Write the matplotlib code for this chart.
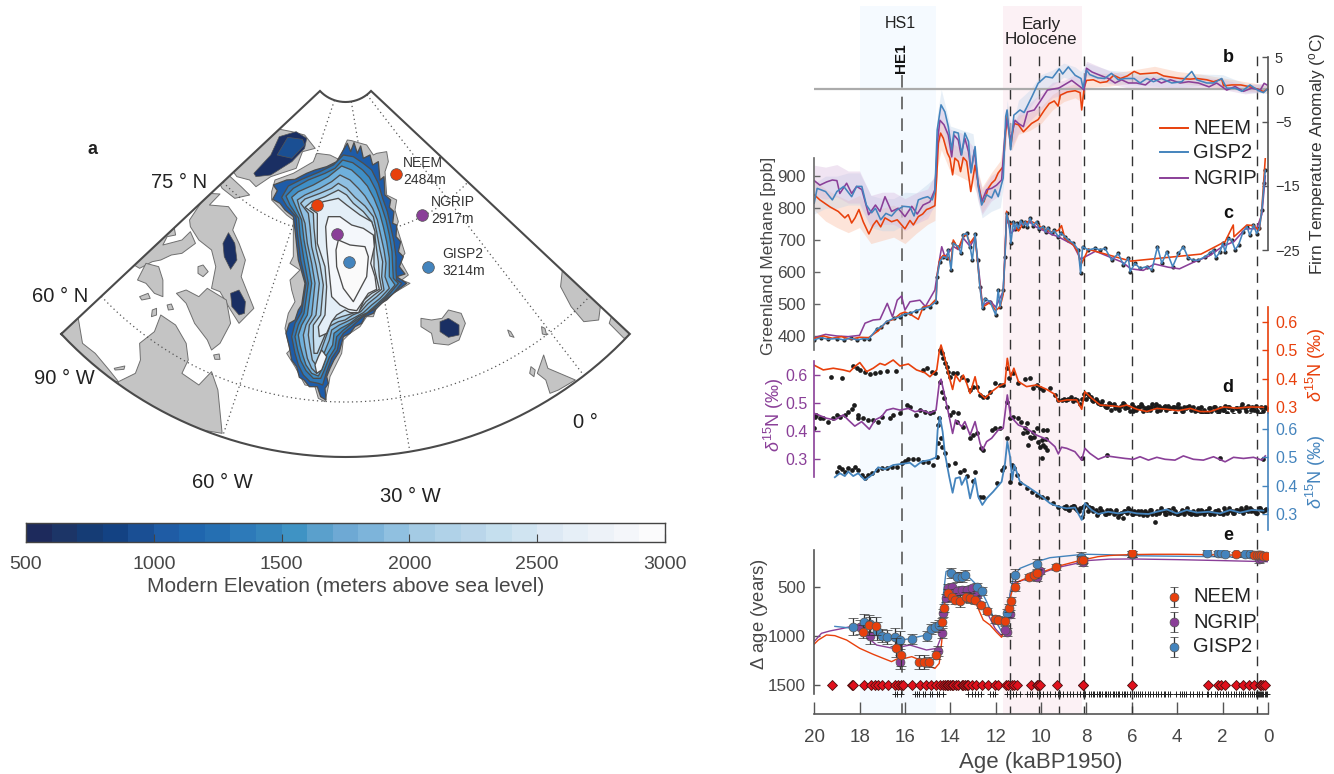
import numpy as np
import matplotlib
matplotlib.use("Agg")
import matplotlib.pyplot as plt
from matplotlib.colors import ListedColormap
from matplotlib.patches import Polygon, PathPatch
from matplotlib.path import Path

plt.rcParams['font.family'] = ['Liberation Sans', 'DejaVu Sans']
plt.rcParams['mathtext.fontset'] = 'custom'
plt.rcParams['mathtext.rm'] = 'Liberation Sans'
plt.rcParams['mathtext.it'] = 'Liberation Sans:italic'
plt.rcParams['mathtext.bf'] = 'Liberation Sans:bold'

W, H = 1334, 774
C_N, C_G, C_P = '#e8400c', '#4484bd', '#8a3f98'
DARK = '#474747'

# ---------------- data: panel b (age ka, firn temperature anomaly) ----------
NEEM_T = [(20,-16.4),(19.75,-17.2),(19.3,-18.3),(18.94,-19),(18.65,-20),(18.5,-19.5),(18.35,-20.8),(18.2,-20),(18.03,-18.7),(17.84,-20.6),(17.59,-22.5),(17.4,-21.1),(17.25,-20.4),(17.07,-21.4),(16.88,-20),(16.59,-20.6),(16.34,-20.3),(16,-21.7),(15.78,-20.4),(15.63,-21.1),(15.41,-19.8),(15.22,-19.4),(15.05,-18.7),(14.9,-18.5),(14.68,-18.1),(14.6,-13.6),(14.53,-8.4),(14.43,-6.8),(14.31,-7.6),(14.13,-9.9),(14.02,-10.7),(13.9,-13.3),(13.8,-10.7),(13.65,-11.2),(13.55,-12.8),(13.43,-10.6),(13.28,-11.2),(13.1,-15.9),(12.91,-11.8),(12.77,-14.6),(12.62,-17.2),(12.52,-17.5),(12.33,-15.4),(12.18,-14.6),(12.03,-14.1),(11.89,-13),(11.67,-12),(11.59,-7.9),(11.5,-4.2),(11.34,-8.9),(11.2,-5.3),(11,-5.5),(10.78,-6.6),(10.42,-5.3),(10.13,-4.7),(9.85,-3.2),(9.64,-2.2),(9.42,-1.8),(9.25,-2.6),(9.15,-0.9),(8.85,-0.4),(8.5,-0.2),(8.28,-0.5),(8.21,-3.2),(8.1,0.3),(8,1.4),(7.7,1.5),(7.4,1.05),(7.1,1.2),(6.8,2.2),(6.5,1.7),(6.2,2.1),(5.9,2.8),(5.64,2.4),(5.27,2.5),(4.9,2.6),(4.6,2.1),(4.24,1.9),(3.87,1.7),(3.43,1.6),(3.14,1.7),(2.7,1.5),(2.4,1.2),(2.04,1.6),(1.96,0.55),(1.6,0.7),(1.2,0.7),(0.79,0.4),(0.42,0),(0.2,-0.35),(0.05,0)]
GISP_T = [(20,-17.7),(19.87,-15.4),(19.5,-15.9),(19.2,-17.2),(19,-15.9),(18.7,-15.1),(18.35,-16.7),(18.13,-15.1),(17.9,-15.1),(17.7,-18),(17.47,-19.2),(17.3,-18.5),(17.07,-20.3),(16.84,-19.3),(16.59,-19.7),(16.37,-18.8),(16.07,-18.2),(15.78,-18.3),(15.6,-19.7),(15.41,-17.2),(15.2,-16.9),(15,-16.7),(14.8,-17.2),(14.68,-15.9),(14.58,-6.3),(14.41,-2.4),(14.24,-3.5),(14.09,-5.8),(13.94,-9.4),(13.84,-6.6),(13.65,-6.8),(13.5,-10.2),(13.36,-6.8),(13.2,-8.1),(13.09,-13),(12.91,-8.9),(12.77,-15.1),(12.62,-18),(12.4,-16.4),(12.18,-16.9),(12.03,-15.6),(11.89,-16.7),(11.67,-13.8),(11.56,-4.2),(11.5,-3.2),(11.34,-9.4),(11.2,-4),(10.93,-3.2),(10.75,-3.6),(10.4,-1.1),(10.13,0.95),(9.8,2),(9.5,1.8),(9.2,3.2),(9.05,2.4),(8.8,3.5),(8.5,2.2),(8.24,1.7),(8.15,0.2),(8,3),(7.85,2.3),(7.5,1.8),(7.2,1.7),(6.9,2.5),(6.6,1.5),(6.3,1.7),(5.9,1.7),(5.64,1),(5.34,1.7),(5.05,1.2),(4.7,1.7),(4.24,1),(3.8,1.2),(3.36,2.8),(3.14,1.5),(2.7,1),(2.4,1),(2.04,1.7),(1.82,0.2),(1.45,0.2),(1.15,-0.3),(0.79,0.7),(0.42,-0.2),(0.2,-0.5),(0.05,0)]
NGRIP_T = [(20,-14.2),(19.75,-14.9),(19.45,-14.4),(19.2,-14.1),(19,-14.2),(18.87,-16.2),(18.57,-14.6),(18.35,-16.2),(18.13,-15.1),(17.9,-15.6),(17.6,-19.5),(17.3,-18),(17.1,-19),(16.88,-16.7),(16.59,-19),(16.3,-18.5),(16,-19.8),(15.7,-18.2),(15.46,-19.4),(15.2,-18),(14.9,-17.5),(14.68,-15.6),(14.56,-7.9),(14.46,-4.8),(14.28,-5.5),(14.09,-7.1),(13.94,-10.5),(13.84,-7.1),(13.65,-7.9),(13.53,-10.2),(13.36,-7.6),(13.2,-9.7),(13.09,-12.8),(12.94,-9.4),(12.77,-14.9),(12.62,-17.5),(12.4,-15.6),(12.18,-15.4),(11.96,-14.9),(11.74,-14.1),(11.59,-6.8),(11.5,-4.7),(11.34,-7.9),(11.15,-4.8),(11,-5.3),(10.78,-5.8),(10.6,-3.5),(10.3,-3.2),(10.05,-1.9),(9.72,-0.1),(9.24,0.2),(9.15,0.35),(8.65,1.4),(8.24,0.3),(8.1,-0.1),(8,3.3),(7.75,2.7),(7.4,2.2),(7.03,1.7),(6.74,1),(6.45,1.5),(6.15,1),(5.8,1),(5.4,0.7),(5.05,1.7),(4.7,1),(4.3,1.5),(3.87,1),(3.5,1.2),(3.07,1),(2.6,0.4),(2.26,1),(1.82,-0.1),(1.45,0.45),(1.08,-0.3),(0.72,0.2),(0.34,-0.1),(0.17,0.95),(0.05,0.7)]
BAND_AGE  = [20,19.5,19,18.5,18,17.5,17,16.5,16,15.5,15,14.68,14.58,14.4,14,13.5,13,12.8,12.6,12.2,11.8,11.65,11.5,11.3,11,10.5,10,9.5,9,8.5,8.25,8,7,6,5,4,3,2,1,0]
BAND_HALF = [2.4,2.5,2.5,2.5,2.5,2.5,2.5,2.5,2.5,2.4,2.3,2.3,2.3,2.4,2.3,2.2,2.1,2.1,2.0,2.0,1.9,1.8,1.6,1.5,1.5,1.4,1.3,1.2,1.1,1.1,1.1,1.1,1,1,1,0.9,0.9,0.8,0.7,0.6]
NEEM_MID  = [-16.4,-18,-19,-19.8,-19,-21.5,-21,-20.5,-21.5,-20,-18.7,-18.1,-10,-7,-10.5,-11.5,-12.5,-14.5,-17.2,-15,-13,-9,-4.2,-8,-5.5,-5,-4,-2,-0.8,-0.2,-0.8,1.4,1.5,2,2.6,1.9,1.5,1,0.5,0]
GISP_MID  = [-17,-16,-16,-15.5,-15.5,-19,-19.5,-19.5,-18.5,-18.5,-17,-16,-6.3,-2.4,-8,-8.5,-9,-15,-18,-17,-16.5,-13,-3.2,-8,-3.2,-1.5,1,1.8,3,2.4,1.7,3,2,1.7,1.5,1.1,1.5,1.5,0.2,0]
NGRIP_MID = [-14.2,-14.6,-14.2,-15.2,-15.2,-19,-18.5,-18.5,-19.5,-18.5,-17.8,-15.6,-7.9,-4.8,-8.5,-9,-11,-14.9,-17.5,-15.4,-14.5,-10,-4.7,-7.5,-5.3,-3.5,-1.9,-0.1,0.3,1.2,0.3,3.3,1.9,1.1,1.1,1.1,1,0.8,0,0.4]

# ---------------- panel c: Greenland methane ----------------------------------
GISP_CH4 = [(20,388),(19.7,395),(19.4,390),(19,392),(18.7,388),(18.4,393),(18.1,388),(17.8,392),(17.6,390),(17.25,421),(17.05,428),(16.81,445),(16.5,455),(16.2,460),(16,469),(15.78,471),(15.5,479),(15.2,486),(14.9,492),(14.63,507),(14.58,585),(14.46,632),(14.31,648),(14.16,643),(14.09,669),(13.97,606),(13.87,690),(13.65,679),(13.53,658),(13.43,716),(13.28,721),(13.13,679),(13.03,637),(12.91,719),(12.8,637),(12.7,554),(12.58,486),(12.47,517),(12.25,507),(12,466),(11.89,544),(11.81,492),(11.67,544),(11.59,648),(11.52,783),(11.42,757),(11.33,690),(11.22,757),(11.15,735),(11.08,752),(11,736),(10.9,760),(10.78,745),(10.7,757),(10.6,742),(10.49,768),(10.35,745),(10.2,757),(10.1,735),(9.9,741),(9.8,725),(9.7,738),(9.54,721),(9.42,730),(9.24,710),(9.12,722),(8.95,710),(8.8,700),(8.58,690),(8.36,669),(8.26,596),(8.17,679),(7.92,669),(7.62,674),(7.4,669),(7.18,674),(6.89,637),(6.6,658),(6.37,622),(6.15,643),(6.08,601),(5.86,627),(5.64,611),(5.34,617),(5.12,606),(4.87,679),(4.68,627),(4.46,663),(4.2,617),(3.95,658),(3.73,679),(3.51,643),(3.29,637),(3.07,637),(2.77,648),(2.55,660),(2.4,669),(2.3,645),(2.11,663),(2,690),(1.89,664),(1.75,705),(1.6,700),(1.45,670),(1.3,684),(1.1,725),(0.93,742),(0.8,715),(0.64,747),(0.5,720),(0.38,736),(0.27,794),(0.17,877),(0.12,918)]
NEEM_CH4 = [(20,392),(19.6,400),(19.2,393),(18.8,398),(18.4,390),(18,396),(17.6,395),(17.2,415),(16.8,445),(16.5,452),(16.2,470),(16,475),(15.7,465),(15.41,452),(15.2,490),(14.9,495),(14.63,515),(14.58,590),(14.46,640),(14.31,652),(14.16,650),(13.97,630),(13.87,700),(13.65,672),(13.43,712),(13.28,716),(13.13,690),(12.91,712),(12.8,630),(12.7,560),(12.58,490),(12.25,505),(12,480),(11.81,490),(11.67,530),(11.59,655),(11.52,790),(11.42,750),(11.22,750),(11,728),(10.78,752),(10.49,760),(10.2,750),(9.9,735),(9.54,725),(9.24,730),(9.1,745),(8.95,705),(8.58,685),(8.36,660),(8.26,620),(7.92,671),(6.05,634),(2.95,656),(1.89,695),(1.53,747),(1.5,710),(0.93,747),(0.64,745),(0.38,730),(0.27,800),(0.12,955)]
NGRIP_CH4 = [(20,395),(19.5,405),(19,400),(18.5,398),(18,402),(17.76,440),(17.4,450),(17.1,452),(16.78,502),(16.55,460),(16.34,512),(16.15,525),(16,481),(15.78,507),(15.34,512),(15.1,492),(14.68,544),(14.53,617),(14.38,679),(14.24,648),(14.09,660),(13.87,680),(13.65,670),(13.43,706),(13.13,680),(12.91,708),(12.8,640),(12.58,495),(12.25,510),(12,490),(11.67,540),(11.52,775),(11.33,720),(11,745),(10.49,755),(10.2,740),(9.54,718),(9.24,710),(8.58,685),(8.26,640),(7.6,665),(6.4,630),(6.05,610),(5.5,605),(5,625),(4.4,615),(3.9,610),(3.3,630),(2.6,650),(2,680),(1.5,695),(1,735),(0.5,735),(0.27,780),(0.12,900)]

# ---------------- panel d: d15N --------------------------------------------------
NEEM_D15 = [(20.01,.448),(19.6,.431),(19.16,.437),(18.72,.431),(18.43,.425),(18.21,.443),(17.99,.457),(17.69,.425),(17.4,.437),(17.1,.454),(16.88,.448),(16.52,.466),(16.22,.445),(15.85,.452),(15.49,.431),(15.12,.421),(14.9,.407),(14.6,.431),(14.49,.496),(14.41,.519),(14.24,.472),(14.09,.419),(13.9,.362),(13.77,.413),(13.58,.39),(13.43,.413),(13.28,.384),(13.13,.348),(12.91,.407),(12.77,.354),(12.47,.331),(12.18,.354),(11.89,.372),(11.59,.384),(11.49,.472),(11.34,.407),(11.2,.437),(11,.39),(10.64,.372),(10.2,.378),(9.75,.362),(9.4,.345),(9.24,.319),(8.87,.325),(8.43,.325),(8.21,.292),(8.07,.354),(7.77,.331),(7.4,.307),(6.89,.304),(6.52,.301),(6.23,.307),(5.78,.292),(5.34,.284),(4.9,.295),(4.46,.292),(3.95,.287),(3.43,.295),(2.99,.284),(2.55,.284),(1.96,.3),(1.37,.296),(0.79,.3),(0.2,.299)]
NGRIP_D15 = [(20.01,.463),(19.82,.457),(19.46,.445),(19.09,.439),(18.72,.457),(18.5,.439),(18.21,.417),(17.91,.433),(17.57,.406),(17.32,.439),(17.03,.451),(16.81,.474),(16.52,.48),(16.22,.474),(15.85,.48),(15.56,.468),(15.27,.474),(14.9,.463),(14.63,.474),(14.49,.569),(14.41,.584),(14.24,.522),(14.05,.451),(13.9,.391),(13.77,.439),(13.5,.415),(13.36,.433),(13.13,.385),(12.91,.433),(12.69,.356),(12.58,.332),(12.4,.362),(12.18,.374),(11.89,.403),(11.67,.409),(11.49,.528),(11.34,.451),(11,.421),(10.64,.409),(10.2,.385),(9.75,.37),(9.39,.344),(9.24,.318),(9.1,.342),(8.87,.338),(8.51,.326),(8.21,.296),(8.07,.338),(7.85,.32),(7.48,.299),(7.11,.311),(6.67,.306),(6.3,.302),(5.93,.299),(5.64,.308),(5.27,.296),(4.9,.306),(4.54,.299),(4.1,.296),(3.73,.311),(3.29,.299),(2.85,.296),(2.4,.308),(1.89,.29),(1.52,.306),(1.08,.302),(0.64,.306),(0.27,.296),(0.12,.311)]
GISP_D15 = [(19.09,.43),(18.87,.444),(18.65,.434),(18.5,.45),(18.28,.434),(18.06,.444),(17.77,.42),(17.4,.441),(17.18,.465),(16.88,.458),(16.52,.473),(16.15,.477),(15.78,.481),(15.56,.467),(15.27,.485),(14.9,.491),(14.63,.5),(14.56,.597),(14.46,.644),(14.34,.591),(14.24,.514),(14.05,.432),(13.9,.375),(13.77,.426),(13.58,.43),(13.5,.403),(13.31,.432),(13.13,.355),(12.91,.426),(12.77,.361),(12.59,.332),(12.4,.355),(12.11,.379),(11.74,.414),(11.59,.479),(11.49,.556),(11.37,.503),(11.27,.42),(11.18,.473),(10.93,.414),(10.49,.391),(10.05,.367),(9.61,.338),(9.24,.326),(8.87,.32),(8.51,.323),(8.21,.279),(8.07,.338),(7.77,.314),(7.48,.3),(7.04,.308),(6.6,.302),(6.15,.308),(5.78,.302),(5.27,.3),(4.9,.308),(4.46,.316),(4.02,.302),(3.58,.314),(3.14,.305),(2.62,.308),(2.11,.302),(1.67,.314),(1.23,.305),(0.72,.314),(0.2,.312)]

NEEM_DOT_AGE = [19.28,18.79,18.28,18.13,17.99,17.77,17.55,17.32,17.1,16.78,16.41,15.19,15.05,14.83,14.68,14.46,14.38,14.31,14.24,14.16,14.09,14.02,13.87,13.72,13.5,13.28,13.13,12.99,12.84,12.69,12.55,12.4,12.25,12.03,11.81,11.67,11.52,11.4,11.22,11,10.71,10.49,10.34,10.2,10.05,9.9,9.6,9.39,9.24,9.1,9,8.9,8.8,8.7,8.6,8.5,8.4,8.3,8.2,8.1]
NEEM_DOT_VAL = [.405,.401,.445,.437,.431,.425,.417,.421,.425,.428,.426,.431,.437,.425,.419,.501,.49,.472,.454,.443,.425,.407,.419,.421,.407,.395,.36,.372,.372,.342,.337,.334,.354,.384,.378,.378,.437,.401,.419,.384,.398,.401,.366,.378,.366,.36,.366,.342,.325,.325,.33,.325,.33,.335,.32,.33,.325,.31,.33,.345]
NEEM_HOL_DOTS = [.33,.34,.335,.32,.33,.315,.31,.32,.305,.30,.315,.29,.31,.30,.295,.305,.315,.295,.30,.285,.31,.30,.29,.30,.31,.285,.295,.30,.29,.31,.30,.285,.305,.295,.30,.29,.305,.295,.30,.28,.30,.295,.285,.30,.295,.305,.29,.30,.285,.295,.285,.275,.29,.28,.295,.285,.30,.29,.275,.295,.29,.305,.28,.30,.29,.27,.295,.285,.30,.262,.295,.305,.27,.30,.29,.285,.25,.30,.285,.295]
NEEM_HOL_DOTS2 = [.345,.325,.32,.31,.30,.31,.295,.29,.31,.30,.285,.30,.305,.29,.30,.31,.29,.305,.295,.30,.31,.285,.30,.295,.29,.30,.28,.295,.30,.285,.29,.30,.27,.295,.31,.285,.29,.305,.275,.30]
NGRIP_DOT_AGE = [20.01,19.97,19.9,19.75,19.6,19.38,19.16,19.01,18.87,18.65,18.5,18.35,18.25,18.09,18.06,17.84,17.62,17.4,17.18,17.03,16.66,16.52,16.22,15.9,15.78,15.52,15.34,15.12,14.9,14.75,14.46,14.38,14.27,14.16,14.02,13.87,13.65,13.72,13.43,13.13,12.99,12.84,12.67,12.55,12.18,12.03,11.81,11.52,11.37,11.22,11,10.78,10.64,10.56,10.49,10.34,10.2,9.98,9.9,9.83,9.75,9.98,9.73,10.05,10.9,10.7,10.6,10.45,10.3,10.12,9.92,9.8,8.21,7.1,2.1,0.2]
NGRIP_DOT_VAL = [.409,.451,.457,.445,.445,.433,.445,.457,.451,.457,.468,.477,.492,.457,.445,.445,.439,.439,.433,.451,.445,.457,.465,.492,.486,.457,.474,.468,.463,.468,.575,.54,.516,.486,.457,.468,.463,.433,.415,.374,.385,.391,.338,.332,.403,.409,.409,.504,.445,.451,.445,.391,.427,.35,.379,.397,.409,.368,.403,.344,.403,.302,.332,.344,.43,.41,.395,.375,.38,.36,.35,.37,.302,.314,.302,.3]
GISP_DOT_AGE = [19.01,18.9,18.79,18.65,18.5,18.35,18.21,18.06,17.91,17.77,17.62,17.47,17.25,17.03,16.81,16.59,16.37,16.15,16,15.85,15.63,15.41,15.19,14.97,14.75,14.6,14.56,14.53,14.49,14.43,14.36,14.24,14.09,13.8,13.58,13.4,13.25,12.99,12.91,12.69,12.55,11.96,11.74,11.62,11.52,11.37,11.27,11.2,11.08,10.93,10.64,10.42,10.2,9.98,9.75,9.46,9.24]
GISP_DOT_VAL = [.45,.467,.458,.45,.461,.455,.465,.455,.438,.426,.438,.444,.455,.461,.461,.467,.467,.481,.488,.493,.493,.493,.485,.485,.473,.503,.55,.614,.638,.567,.538,.514,.473,.479,.45,.455,.434,.418,.45,.361,.361,.408,.455,.467,.567,.414,.473,.461,.438,.408,.391,.379,.367,.361,.355,.338,.326]
GISP_HOL_DOTS = [.325,.33,.318,.325,.33,.32,.315,.32,.29,.33,.335,.325,.32,.31,.315,.305,.32,.31,.30,.315,.305,.31,.30,.315,.29,.305,.285,.31,.305,.315,.30,.31,.305,.30,.31,.295,.31,.305,.315,.30,.27,.31,.305,.32,.31,.30,.315,.305,.32,.31,.30,.305,.315,.30,.31,.305,.30,.31,.30,.315,.305,.31,.30,.31,.32,.305,.30,.31,.315,.305,.30,.31,.305,.32,.31,.305,.315,.31,.32,.305,.315,.31,.32,.315,.31,.305,.32,.315,.31,.318]
GISP_HOL_DOTS2 = [.32,.315,.33,.31,.325,.31,.32,.295,.31,.30,.315,.305,.30,.31,.32,.30,.31,.305,.295,.315,.30,.31,.30,.315,.305,.30,.31,.32,.305,.30,.315,.31,.30,.31,.305,.32,.31,.305,.315,.31,.325,.31,.305,.32,.315]

# ---------------- panel e: delta age --------------------------------------------
NEEM_DA = [(20.01,1087),(19.82,1043),(19.46,991),(19.09,998),(18.57,1043),(17.99,1128),(17.4,1189),(16.96,1230),(16.59,1264),(16.3,1230),(16,1230),(15.7,1213),(15.34,1247),(15.05,1299),(14.68,1333),(14.49,1282),(14.38,1060),(14.27,701),(14.16,565),(13.94,582),(13.58,616),(13.13,650),(12.84,684),(12.55,838),(12.25,889),(11.96,964),(11.74,1015),(11.52,889),(11.37,616),(11.22,497),(11,445),(10.49,394),(9.9,343),(9.17,282),(8.21,224),(8,215),(7.5,190),(7,178),(6.5,172),(6,168),(5,165),(4,165),(3,168),(2,172),(1,175),(0,180)]
NGRIP_DA = [(20.01,1060),(19.68,974),(19.31,950),(18.72,923),(18.13,889),(17.77,991),(17.25,1094),(16.52,1128),(15.78,1094),(15.05,1145),(14.6,1128),(14.43,1026),(14.31,718),(14.19,514),(13.87,497),(13.28,548),(12.77,599),(12.4,753),(12.03,923),(11.74,998),(11.52,889),(11.37,582),(11.22,462),(10.78,428),(10.2,377),(9.31,302),(8.21,247),(8,230),(7,215),(6,213),(4,220),(2,230),(0,241)]
GISP_DA = [(19.09,903),(18.28,923),(17.5,900),(16.9,1000),(16.15,1043),(15.78,1028),(15.05,991),(14.46,906),(14.31,582),(14.19,343),(14.02,319),(13.58,377),(13.13,411),(12.69,514),(12.4,650),(12.11,804),(11.74,957),(11.52,838),(11.37,582),(11.22,394),(10.93,309),(10.2,241),(9.61,200),(8.43,172),(8,165),(7,170),(6,180),(4,185),(2,190),(0,205)]

NEEM_PTS = [(17.87,957,70),(17.57,889,100),(17.28,899,90),(16.4,1121,100),(16.18,1196,110),(15.4,1265,70),(15.15,1271,70),(14.93,1265,50),(14.63,1196,40),(14.36,855,40),(14.27,718,40),(14.09,565,40),(13.94,599,40),(13.8,633,40),(13.58,640,60),(13.31,599,50),(13.14,616,50),(12.91,633,40),(12.65,684,30),(12.37,742,30),(12.03,831,40),(11.89,838,40),(11.59,845,40),(11.42,718,40),(11.34,643,40),(11.17,497,40),(10.52,394,30),(10.31,377,30),(10.2,360,30),(9.34,292,30),(8.26,224,40),(8.14,224,30),(6,150,40),(1.4,165,25),(0.6,170,25),(0.5,175,25),(0.4,175,25),(0.3,175,25),(0.2,180,25),(0.1,180,20)]
NGRIP_PTS = [(17.99,906,70),(17.54,998,90),(16.2,1271,70),(14.56,1155,50),(14.38,974,50),(14.31,770,40),(14.19,616,40),(14.09,514,40),(13.94,497,40),(13.72,541,40),(13.5,531,40),(13.28,531,40),(13.06,514,30),(12.84,582,30),(11.52,964,40),(11.59,940,40),(11.37,780,40),(10.2,394,40),(10.05,336,30),(8.14,247,40),(6,165,30),(0.4,215,40),(0.3,200,30)]
GISP_PTS = [(18.28,906,90),(17.79,862,90),(17.52,882,80),(17.25,950,90),(16.99,998,70),(16.81,1012,70),(16.44,1009,90),(16.22,1043,90),(15.68,1036,50),(15.05,1001,50),(14.87,930,50),(14.68,906,50),(14.5,889,50),(13.97,360,50),(13.69,401,50),(13.5,394,50),(13.36,377,50),(12.84,497,40),(12.62,541,40),(11.52,770,40),(11.15,377,60),(10.2,264,50),(8.26,190,50),(6,160,30),(2.7,150,25),(2.2,155,25),(2.05,155,25),(1.9,160,25),(1,165,20),(0.8,165,20),(0.4,170,20)]

TIE_AGES = [19.23,18.32,18.28,17.79,17.5,17.3,17.2,16.99,16.74,16.44,16.3,16.18,16.07,15.68,15.34,15.09,14.87,14.63,14.46,14.31,14.24,14.16,14.09,14.02,13.94,13.87,13.75,13.65,13.5,13.43,13.36,13.28,13.21,13.06,12.89,12.62,12.33,12.03,11.89,11.55,11.45,11.3,11.2,11.08,10.45,10.2,10.12,10.05,9.31,8.17,8.14,6,2.65,2.2,2.05,1.9,1.4,1.1,0.85,0.6,0.35,0.3,0.2,0.15]
TIE_LEVEL = 1500
PLUS_LEVEL = 1595
PLUS_AGES = [16.44,16.34,16.19,15.56,15.46,15.37,15.19,15.12,14.9,14.83,14.6,14.49,14.31,13.21,13.06,12.91,12.77,12.67,12.25,12.14,12.03,11.49,11.37,11.22,11.1,10.93,10.64,10.49,10.42,10.2,10.05,9.9,9.75,9.6,9.39,9.24,9.17,9.02,8.87,8.73,8.58,8.43,8.28,8.17,8.06,7.9,7.8,7.72,7.65,7.55,7.45,7.4,7.3,7.2,7.12,7.05,6.95,6.85,6.8,6.7,6.62,6.55,6.45,6.35,6.3,6.2,6.1,5.9,5.8,5.75,5.65,5.55,5.4,5.3,5.2,5.05,4.95,4.85,4.7,4.6,4.55,4.4,4.3,4.05,3.9,3.8,3.7,3.6,3.45,3.3,3.15,3.05,2.9,2.7,2.65,2.5,2.35,2.25,2.1,2.0,1.85,1.75,1.65,1.5,1.4,1.3,1.2,1.1,1.0,.9,.8,.7,.6,.55,.5,.45,.4,.35,.3,.25,.2,.15,.1,.05]

EVENT_AGES = [11.35,10.1,9.2,8.1,6,0.5]
HE1_AGE = 16.15
HS1_SPAN = (17.97,14.65)
HOLO_SPAN = (11.7,8.2)
X_TICKS = [20,18,16,14,12,10,8,6,4,2,0]

# ---------------- colour bar -----------------------------------------------------
ELEV_LEVELS = np.arange(500,3001,100)
ELEV_COLOURS = ['#1d2a5c','#1c3567','#153c75','#134283','#1a4f94','#1f5ca5','#1f66ae','#256fb2','#2d7ab9','#3585bc','#3f93c4','#5aa0cc','#6ea9d4','#7db4da','#90c0e0','#a4cbe4','#b0d2e8','#bad6ea','#c5dfee','#d0e4f1','#dde9f4','#e6eff7','#edf2f8','#f4f6fa','#fbfbfc']
ELEV_TICKS = [500,1000,1500,2000,2500,3000]

# ---------------- map outlines (map sheet units, as digitised) --------------------
GL_LAND = [(345,75),(352,60),(365,62),(385,68),(410,75),(430,105),(440,100),(470,95),(475,125),(465,155),(470,225),(500,240),(495,270),(505,305),(500,320),(525,400),(510,420),(535,465),(515,480),(540,490),(490,520),(440,560),(430,590),(410,590),(390,620),(360,640),(340,660),(335,700),(320,730),(300,770),(295,800),(285,845),(265,835),(255,800),(225,795),(195,740),(170,700),(180,690),(165,625),(175,580),(195,545),(185,510),(180,480),(210,450),(195,440),(180,430),(190,410),(190,300),(170,285),(125,240),(125,215),(135,180),(190,160),(250,125),(260,100),(300,105),(330,120)]
GL_L0 = [(340,90),(352,70),(362,95),(372,68),(382,100),(392,78),(400,115),(420,105),(428,135),(445,125),(450,180),(462,170),(465,225),(482,240),(478,262),(492,275),(488,310),(500,315),(498,350),(512,365),(505,395),(520,410),(508,440),(525,462),(500,470),(530,490),(490,520),(470,540),(445,555),(430,580),(405,590),(395,610),(375,620),(360,640),(340,650),(335,670),(328,695),(312,720),(300,745),(290,770),(295,790),(285,805),(288,840),(272,830),(262,800),(238,800),(222,780),(208,772),(200,740),(185,720),(178,680),(168,640),(178,610),(195,600),(205,570),(215,555),(225,490),(205,420),(195,330),(190,290),(165,270),(150,250),(128,238),(142,212),(130,195),(170,180),(195,178),(230,160),(255,150),(290,140),(320,125)]
GL_L1 = [(340,105),(370,110),(400,130),(425,150),(445,190),(458,235),(472,275),(482,320),(492,365),(498,410),(498,450),(500,480),(515,490),(490,520),(465,540),(440,565),(415,578),(390,597),(365,620),(340,640),(328,660),(322,690),(305,715),(290,755),(278,795),(265,790),(240,785),(220,765),(205,735),(195,700),(185,650),(195,610),(215,575),(228,490),(212,420),(202,340),(198,290),(170,258),(155,232),(175,198),(215,178),(270,155),(310,135)]
GL_L2 = [(338,120),(368,128),(398,150),(418,172),(438,210),(452,250),(468,300),(478,345),(486,395),(488,440),(490,475),(505,490),(480,520),(455,545),(428,568),(395,590),(365,610),(338,632),(320,650),(315,685),(298,712),(283,750),(272,775),(250,775),(228,752),(212,722),(203,690),(195,650),(205,615),(222,580),(235,490),(222,420),(210,345),(206,295),(180,255),(168,228),(190,205),(235,180),(285,160),(315,145)]
GL_L3 = [(335,138),(365,150),(392,175),(412,198),(432,235),(448,275),(460,320),(470,365),(478,415),(478,470),(495,495),(465,530),(438,555),(412,578),(385,590),(360,610),(332,625),(312,640),(308,675),(290,705),(277,745),(265,768),(245,760),(228,735),(218,705),(210,675),(205,645),(215,615),(232,585),(245,490),(235,430),(222,360),(215,300),(195,255),(185,232),(205,215),(250,195),(295,170)]
GL_L4 = [(330,165),(360,180),(385,205),(405,228),(428,265),(442,300),(452,345),(462,390),(468,430),(465,470),(478,505),(450,535),(425,555),(400,578),(375,592),(350,605),(328,615),(305,630),(298,660),(282,700),(270,735),(260,760),(245,745),(232,715),(225,680),(220,645),(228,615),(245,585),(255,490),(245,430),(232,370),(225,310),(208,262),(202,240),(225,225),(270,205),(305,185)]
GL_L5 = [(325,190),(350,205),(375,232),(405,258),(430,290),(440,335),(450,390),(458,425),(455,470),(462,510),(440,530),(415,550),(392,575),(368,585),(345,600),(325,605),(300,618),(288,650),(272,695),(258,735),(247,720),(240,680),(235,645),(238,615),(258,585),(268,490),(258,435),(245,380),(240,320),(235,280),(212,250),(225,237),(270,220),(305,205)]
GL_L6 = [(325,210),(350,225),(370,250),(400,275),(425,305),(433,335),(440,390),(445,425),(448,470),(455,508),(432,525),(408,545),(388,572),(362,582),(335,590),(310,600),(295,615),(285,645),(270,680),(262,700),(252,700),(250,650),(250,615),(272,585),(280,495),(270,435),(258,385),(252,325),(250,280),(225,262),(245,245),(285,230)]
GL_L7 = [(280,245),(325,235),(350,255),(390,285),(425,305),(435,335),(432,390),(432,440),(440,475),(448,508),(425,520),(402,540),(386,578),(360,578),(345,570),(320,585),(305,605),(290,640),(268,650),(265,620),(285,585),(290,500),(285,440),(262,370),(262,280),(240,265)]
GL_L8 = [(295,290),(330,290),(365,315),(400,325),(430,345),(433,380),(422,430),(435,470),(440,508),(415,520),(395,550),(380,572),(355,568),(330,555),(305,530),(300,480),(295,430),(290,380),(287,320)]
GL_L9 = [(325,360),(360,375),(405,380),(415,410),(410,470),(370,545),(340,505),(320,440),(318,390)]
GL_DOME = [(275,690),(290,710),(275,750),(260,760),(255,735),(265,710)]
GL_LEVELS = [('#1e5ca8',GL_L0),('#2f78b8',GL_L1),('#3f8fc6',GL_L2),('#6fb0dc',GL_L3),('#8fc0e3',GL_L4),('#a8cfe9',GL_L5),('#c9e1f1',GL_L6),('#e3eef7',GL_L7),('#f4f7fb',GL_L8),('#fafafa',GL_L9),('#f4f7fb',GL_DOME)]
NAVY, CAP_BLUE = '#1a2f63', '#1a4f93'
LAND_SHAPES = [
 [(545,265),(600,200),(650,145),(690,155),(720,165),(745,205),(715,215),(700,265),(640,290),(605,320),(590,300),(560,290)],
 [(515,300),(540,285),(570,320),(590,345),(555,355),(525,325)],
 [(448,420),(490,340),(520,342),(495,375),(540,380),(560,415),(550,450),(565,490),(580,540),(570,590),(600,685),(565,730),(545,690),(520,635),(500,625),(510,560),(500,510),(470,480),(450,440)],
 [(310,550),(345,510),(410,430),(415,465),(395,470),(385,495),(430,480),(450,455),(462,490),(430,520),(405,525),(380,540),(360,545),(330,565)],
 [(325,600),(345,550),(375,560),(385,600),(385,650),(365,640),(345,610)],
 [(417,640),(440,630),(470,650),(490,625),(535,660),(545,730),(520,790),(500,810),(490,780),(460,730),(440,670)],
 [(330,650),(350,640),(355,655),(335,660)],[(360,690),(370,685),(370,705),(358,710)],[(468,560),(480,555),(492,575),(480,590),(468,580)],
 [(395,675),(405,672),(410,688),(398,690)],[(270,865),(295,858),(293,868),(272,870)],[(505,825),(518,822),(520,838),(508,838)],
 [(280,905),(320,880),(332,840),(330,790),(365,755),(380,705),(415,735),(440,790),(445,840),(430,880),(470,915),(500,875),(515,930),(525,1060),(430,1040),(350,1000),(280,925)],
 [(130,770),(185,715),(195,790),(225,820),(258,870),(280,905),(240,900),(200,850),(160,810)],
 [(1045,715),(1060,690),(1090,700),(1100,730),(1085,780),(1060,795),(1025,790),(1020,760),(995,740),(995,715),(1020,720)],
 [(1330,560),(1380,620),(1420,670),(1415,720),(1380,725),(1350,680),(1325,620)],[(1445,710),(1500,762),(1475,775),(1440,730)],
 [(1285,825),(1295,865),(1360,900),(1320,930),(1300,940),(1290,900),(1270,880)],[(1255,860),(1265,870),(1262,890),(1252,880)],
 [(1200,750),(1207,755),(1215,772),(1205,768)],[(1280,740),(1288,745),(1292,765),(1282,762)],
]
ICE_CAPS = [
 (NAVY,[(600,280),(640,225),(660,170),(700,155),(725,175),(720,205),(690,245),(640,285),(605,290)]),
 (CAP_BLUE,[(655,225),(680,172),(715,178),(720,195),(690,235)]),
 (NAVY,[(527,490),(540,458),(555,490),(560,540),(545,568),(530,530)]),
 (NAVY,[(545,640),(565,630),(580,665),(578,700),(565,705),(548,680)]),
 (NAVY,[(1040,725),(1060,715),(1085,735),(1085,765),(1060,772),(1040,755)]),
]
SITE_NAMES = ['NEEM','NGRIP','GISP2']
SITE_ELEV = ['2484m','2917m','3214m']
SITE_COLOURS = [C_N,C_P,C_G]
SITES_ON_ICE = [(260,256),(322,343),(357,425)]
SITES_KEY = [(497,162),(576,284),(595,441)]
MERIDIANS = [-18.4,9.5,37.7]
PARALLEL_RADII = [168,335]

# ---------------- helpers ----------------------------------------------------------
fig = plt.figure(figsize=(W/100,H/100),dpi=100,facecolor='white')

def axes_px(x0,y0,x1,y1,**kw):
    a = fig.add_axes([x0/W,1-y1/H,(x1-x0)/W,(y1-y0)/H],**kw)
    a.patch.set_alpha(0)
    return a
def pairs(p):
    return np.array(p,dtype=float).T
def sheet_a(p):
    p = np.array(p,dtype=float)
    return np.c_[p[:,0]*660/1560, 80+p[:,1]/3]
def sheet_b(p):
    p = np.array(p,dtype=float)
    return np.c_[230+p[:,0]/3, 120+p[:,1]/3]

XL, XR = 814.2, 1268
bg = axes_px(XL,6,XR,714,zorder=0)
bg.set_xlim(20,0); bg.set_ylim(714,6)
bg.axvspan(*HS1_SPAN,color='#f5faff',lw=0)
bg.axvspan(*HOLO_SPAN,color='#fcf1f5',lw=0)
bg.plot([HE1_AGE,HE1_AGE],[75,714],color='#666666',lw=1.3,dashes=(7,5))
for a in EVENT_AGES:
    bg.plot([a,a],[56,714],color='#333333',lw=1.0,dashes=(7,5))
for s in ['top','left','right']:
    bg.spines[s].set_visible(False)
bg.spines['bottom'].set_color('#555555'); bg.spines['bottom'].set_linewidth(1.2)
bg.set_xticks(X_TICKS); bg.set_yticks([])
bg.tick_params(axis='x',direction='in',length=9,width=1,color='#555555',labelcolor=DARK,labelsize=13.5,pad=11)
bg.set_xlabel('Age (kaBP1950)',fontsize=16,color=DARK,labelpad=4)

def panel(y0,y1,top,bot,side,color,ticks,lab=None,size=11.5):
    a = axes_px(XL,y0,XR,y1,zorder=2)
    a.set_xlim(20,0); a.set_ylim(bot,top)
    for s in a.spines.values(): s.set_visible(False)
    a.spines[side].set_visible(True); a.spines[side].set_color(color); a.spines[side].set_linewidth(1.2)
    a.set_xticks([]); a.set_yticks(ticks)
    if lab: a.set_yticklabels(lab)
    a.yaxis.set_ticks_position(side)
    a.tick_params(axis='y',direction='in',length=4,width=1,color=color,labelcolor=color,labelsize=size,pad=5)
    return a

# panel b
ab = panel(57.3,250,5,-25,'right','#555555',[5,0,-5,-15,-25],size=10.5)
ab.tick_params(axis='y',labelcolor='#333333')
for mid,c,al in [(NEEM_MID,'#fbc4ab',.45),(GISP_MID,'#bcd3ea',.35),(NGRIP_MID,'#d8b8dd',.38)]:
    m = np.array(mid); h = np.array(BAND_HALF)
    ab.fill_between(BAND_AGE,m-h,m+h,color=c,alpha=al,lw=0)
ab.axhline(0,color='#ababab',lw=1.6)
for d,c in [(NEEM_T,C_N),(NGRIP_T,C_P),(GISP_T,C_G)]:
    ab.plot(*pairs(d),color=c,lw=1.15)

# panel c
ac = panel(158,350,956.25,356.25,'left','#666666',[400,500,600,700,800,900],size=12.3)
ac.tick_params(axis='y',labelcolor=DARK,pad=6)
ga,gv = pairs(GISP_CH4)
ac.plot(ga,gv,'.',color='#262626',ms=4,zorder=1)
for d,c,z in [(NGRIP_CH4,C_P,2),(NEEM_CH4,C_N,3),(GISP_CH4,C_G,4)]:
    ac.plot(*pairs(d),color=c,lw=1.15,zorder=z)

# panel d
TK = [.3,.4,.5,.6]; TL = ['0.3','0.4','0.5','0.6']
dn = panel(307,413,.3+(407-307)/283,.3+(407-413)/283,'right',C_N,TK,TL)
dp = panel(361,477,.3+(459-361)/281,.3+(459-477)/281,'left',C_P,TK,TL)
dg = panel(413,530,.3+(514-413)/283,.3+(514-530)/283,'right',C_G,TK,TL)
hol_n = np.arange(8.0,0.05,-0.1)
hol_n2 = np.arange(7.95,0.05,-0.2)
hol_g = np.arange(9.0,0.05,-0.1)
hol_g2 = np.arange(8.95,0.05,-0.2)
dot = dict(color='#1c1c1c',ms=3.4,mew=0,ls='none',marker='o')
dn.plot(NEEM_DOT_AGE,NEEM_DOT_VAL,**dot)
dn.plot(hol_n,NEEM_HOL_DOTS,**dot)
dn.plot(hol_n2,NEEM_HOL_DOTS2,**dot)
dp.plot(NGRIP_DOT_AGE,NGRIP_DOT_VAL,**dot)
dg.plot(GISP_DOT_AGE,GISP_DOT_VAL,**dot)
dg.plot(hol_g,GISP_HOL_DOTS,**dot)
dg.plot(hol_g2,GISP_HOL_DOTS2,**dot)
dn.plot(*pairs(NEEM_D15),color=C_N,lw=1.2)
dp.plot(*pairs(NGRIP_D15),color=C_P,lw=1.2)
dg.plot(*pairs(GISP_D15),color=C_G,lw=1.3)

# panel e
ae = panel(550,694,500+(550-587)/.0977,500+(694-587)/.0977,'left','#555555',[500,1000,1500],size=12.3)
ae.tick_params(axis='y',labelcolor=DARK,pad=6)
for d,c in [(NGRIP_DA,C_P),(GISP_DA,C_G),(NEEM_DA,C_N)]:
    ae.plot(*pairs(d),color=c,lw=1.0,zorder=2)
for d,c,z in [(NGRIP_PTS,C_P,3),(GISP_PTS,C_G,4),(NEEM_PTS,C_N,5)]:
    a_,v_,e_ = pairs(d)
    ae.errorbar(a_,v_,yerr=e_,fmt='o',ms=6.4,mfc=c,mec='#555555',mew=.5,ecolor='#333333',elinewidth=.9,capsize=3.5,capthick=.9,zorder=z)
ae.plot(TIE_AGES,[TIE_LEVEL]*len(TIE_AGES),'D',ms=5.6,mfc='#e0101c',mec='#4a1010',mew=.6,zorder=6,clip_on=False)
ae.plot(PLUS_AGES,[PLUS_LEVEL]*len(PLUS_AGES),'+',ms=4,mew=.7,color='#222222',zorder=6,clip_on=False)

# overlay in sheet pixels: labels, legends, map
ov = axes_px(0,0,W,H,zorder=5)
ov.set_xlim(0,W); ov.set_ylim(H,0); ov.axis('off')
txt = lambda x,y,s,**k: ov.text(x,y,s,ha=k.pop('ha','center'),va=k.pop('va','center'),**k)
txt(900,24,'HS1',fontsize=11.5,color='#222222')
txt(901,58,'HE1',fontsize=11,color='#111111',rotation=90,fontweight='bold')
txt(1041,24,'Early',fontsize=12.3,color='#222222')
txt(1041,40,'Holocene',fontsize=12.3,color='#222222')
for y,s in [(57,'b'),(213,'c'),(387,'d'),(535,'e')]:
    txt(1228,y,s,fontsize=13,fontweight='bold',color='#111111')
txt(769,256,'Greenland Methane [ppb]',fontsize=12.6,color=DARK,rotation=90)
txt(760,614,r'$\Delta$ age (years)',fontsize=13.3,color=DARK,rotation=90)
txt(1317,154,r'Firn Temperature Anomaly ($^{\mathrm{o}}$C)',fontsize=12.4,color='#333333',rotation=90)
d15 = r'$\delta^{15}$N (‰)'
txt(774,415,d15,fontsize=13,color=C_P,rotation=90)
txt(1316,365,d15,fontsize=13,color=C_N,rotation=90)
txt(1316,472,d15,fontsize=13,color=C_G,rotation=90)
for y,name,c in [(128,'NEEM',C_N),(152,'GISP2',C_G),(178,'NGRIP',C_P)]:
    ov.plot([1159.5,1188],[y,y],color=c,lw=1.4)
    txt(1193,y,name,fontsize=14.5,color='#222222',ha='left')
for y,name,c in [(597,'NEEM',C_N),(622,'NGRIP',C_P),(647,'GISP2',C_G)]:
    ov.errorbar([1174],[y],yerr=[10],fmt='o',ms=6.4,mfc=c,mec='#555555',mew=.5,ecolor='#333333',elinewidth=.9,capsize=3,capthick=.9)
    txt(1193,y,name,fontsize=14.5,color='#222222',ha='left')

# map
CX, CY, R_OUT, R_IN, HALF = 345.5, 67, 390, 35, 46.8
th = np.radians(np.linspace(-HALF,HALF,121))
outer = np.c_[CX+R_OUT*np.sin(th), CY+R_OUT*np.cos(th)]
inner = np.c_[CX+R_IN*np.sin(th[::-1]), CY+R_IN*np.cos(th[::-1])]
sector = np.r_[outer,inner,outer[:1]]
clip = PathPatch(Path(sector),transform=ov.transData,fc='none',ec='none')
ov.add_patch(clip)
def poly(v,fc,ec,lw,z):
    p = Polygon(v,closed=True,fc=fc,ec=ec,lw=lw,zorder=z,joinstyle='round')
    ov.add_patch(p); p.set_clip_path(clip)
for v in LAND_SHAPES:
    poly(sheet_a(v),'#c4c4c4','#6f6f6f',.7,2)
for c,v in ICE_CAPS:
    poly(sheet_a(v),c,'#555555',.5,3)
for ang in MERIDIANS:
    t = np.radians(ang)
    ov.plot([CX+R_IN*np.sin(t),CX+R_OUT*np.sin(t)],[CY+R_IN*np.cos(t),CY+R_OUT*np.cos(t)],color='#555555',lw=.9,ls=(0,(1,2.5)),zorder=3.5)
for r in PARALLEL_RADII:
    ov.plot(CX+r*np.sin(th),CY+r*np.cos(th),color='#555555',lw=.9,ls=(0,(1,2.5)),zorder=3.5)
poly(sheet_b(GL_LAND),'#c4c4c4','#6f6f6f',.7,4)
for i,(c,v) in enumerate(GL_LEVELS):
    poly(sheet_b(v),c,'#4d4d4d',.95,5+i*.01)
ov.plot(sector[:,0],sector[:,1],color='#4a4a4a',lw=1.5,zorder=7,solid_joinstyle='miter')
for i,c in enumerate(SITE_COLOURS):
    for src in (SITES_ON_ICE,SITES_KEY):
        p = sheet_b([src[i]])[0]
        ov.plot(p[0],p[1],'o',ms=8.4,mfc=c,mec='#555555',mew=.5,zorder=8)
for (x,y1,y2),n,e in zip([(403,163,180),(431,202,219),(442,254,271)],SITE_NAMES,SITE_ELEV):
    txt(x,y1,n,fontsize=10,color='#333333',ha='left')
    txt(x,y2,e,fontsize=10,color='#333333',ha='left')
txt(92,150,'a',fontsize=13,fontweight='bold',color='#222222')
for x,y,s in [(179,182,'75 ° N'),(60,297,'60 ° N'),(64,378,'90 ° W'),(222,482,'60 ° W'),(410,497,'30 ° W'),(585,422,'0 °')]:
    txt(x,y,s,fontsize=14.5,color='#222222')

# colour bar
cb = axes_px(26,523,665,542,zorder=3)
cb.pcolormesh(ELEV_LEVELS,[0,1],[np.arange(25)],cmap=ListedColormap(ELEV_COLOURS),vmin=-.5,vmax=24.5)
cb.set_xlim(500,3000); cb.set_yticks([])
cb.set_xticks(ELEV_TICKS)
for s in cb.spines.values():
    s.set_color('#444444'); s.set_linewidth(1)
cb.tick_params(axis='x',direction='in',length=6,width=.8,color='#444444',labelcolor=DARK,labelsize=14,pad=10)
cb.set_xlabel('Modern Elevation (meters above sea level)',fontsize=15,color=DARK,labelpad=3)

fig.savefig('out.png',dpi=100)
